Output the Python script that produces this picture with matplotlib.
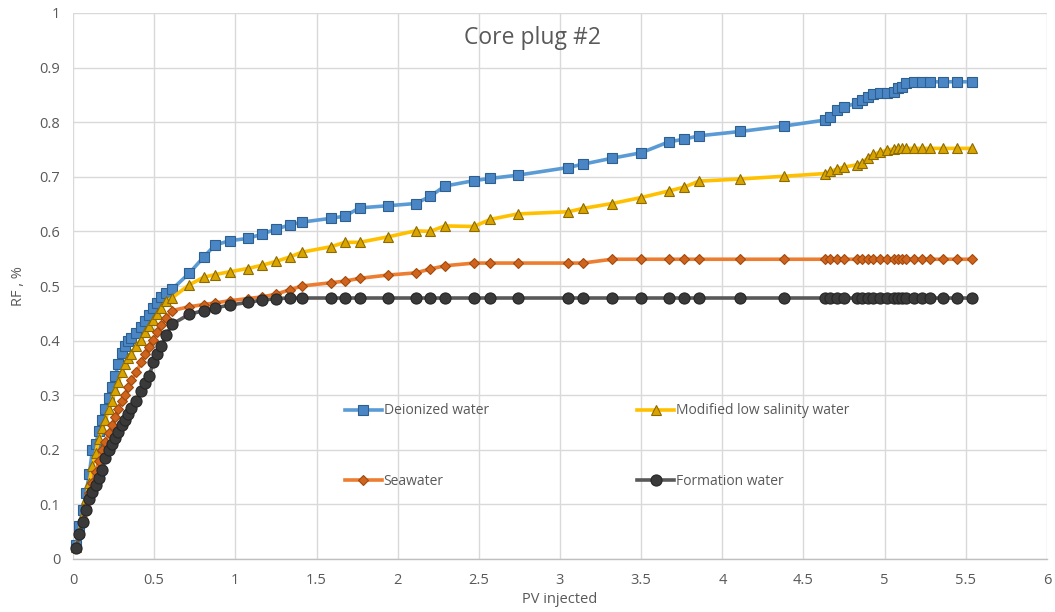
import matplotlib
matplotlib.use("Agg")
import matplotlib.pyplot as plt
from matplotlib import font_manager

# ---------------- data ----------------
pv_injected = [
    0.02, 0.04, 0.06, 0.08, 0.10, 0.12, 0.14, 0.16, 0.18, 0.20, 0.22, 0.24, 0.26, 0.28,
    0.30, 0.32, 0.34, 0.36, 0.39, 0.42, 0.445, 0.47, 0.495, 0.52, 0.545, 0.575, 0.61,
    0.715, 0.805, 0.875, 0.965, 1.075, 1.165, 1.25, 1.335, 1.41,
    1.59, 1.675, 1.765, 1.94, 2.11, 2.20, 2.29, 2.47, 2.57, 2.74, 3.05, 3.14, 3.32,
    3.50, 3.67, 3.765, 3.855, 4.11, 4.38,
    4.635, 4.665, 4.705, 4.75, 4.83, 4.86, 4.90, 4.93, 4.97, 5.015, 5.055, 5.085,
    5.105, 5.13, 5.18, 5.23, 5.28, 5.36, 5.445, 5.54,
]

deionized = [
    0.025, 0.06, 0.09, 0.12, 0.155, 0.20, 0.21, 0.235, 0.255, 0.275, 0.295, 0.315, 0.335, 0.358,
    0.377, 0.39, 0.40, 0.405, 0.414, 0.424, 0.435, 0.447, 0.459, 0.468, 0.479, 0.487, 0.494,
    0.523, 0.553, 0.575, 0.583, 0.587, 0.595, 0.604, 0.612, 0.617,
    0.624, 0.628, 0.643, 0.647, 0.651, 0.664, 0.683, 0.693, 0.697, 0.703, 0.717, 0.723, 0.734,
    0.744, 0.764, 0.769, 0.775, 0.783, 0.793,
    0.804, 0.81, 0.822, 0.828, 0.835, 0.841, 0.847, 0.852, 0.854, 0.854, 0.856, 0.862,
    0.865, 0.871, 0.874, 0.874, 0.874, 0.874, 0.874, 0.874,
]

modified_low_salinity = [
    0.022, 0.05, 0.08, 0.11, 0.14, 0.17, 0.195, 0.22, 0.24, 0.255, 0.275, 0.29, 0.31, 0.325,
    0.343, 0.357, 0.368, 0.376, 0.391, 0.402, 0.415, 0.426, 0.437, 0.448, 0.46, 0.472, 0.478,
    0.502, 0.516, 0.521, 0.526, 0.532, 0.538, 0.545, 0.553, 0.562,
    0.572, 0.58, 0.58, 0.59, 0.601, 0.60, 0.61, 0.609, 0.622, 0.632, 0.636, 0.642, 0.651,
    0.662, 0.674, 0.681, 0.692, 0.696, 0.701,
    0.706, 0.71, 0.714, 0.718, 0.722, 0.726, 0.735, 0.741, 0.745, 0.749, 0.751, 0.752,
    0.752, 0.752, 0.752, 0.752, 0.752, 0.752, 0.752, 0.752,
]

seawater = [
    0.022, 0.045, 0.07, 0.095, 0.12, 0.14, 0.16, 0.18, 0.20, 0.215, 0.23, 0.245, 0.26, 0.275,
    0.29, 0.30, 0.315, 0.327, 0.342, 0.36, 0.375, 0.388, 0.402, 0.415, 0.428, 0.442, 0.455,
    0.462, 0.466, 0.469, 0.473, 0.477, 0.48, 0.485, 0.493, 0.50,
    0.506, 0.509, 0.514, 0.52, 0.524, 0.531, 0.537, 0.542, 0.542, 0.542, 0.542, 0.542, 0.549,
    0.549, 0.549, 0.549, 0.549, 0.549, 0.549,
    0.549, 0.549, 0.549, 0.549, 0.549, 0.549, 0.549, 0.549, 0.549, 0.549, 0.549, 0.549,
    0.549, 0.549, 0.549, 0.549, 0.549, 0.549, 0.549, 0.549,
]

formation = [
    0.02, 0.045, 0.068, 0.09, 0.11, 0.122, 0.135, 0.148, 0.163, 0.185, 0.20, 0.21, 0.222, 0.233,
    0.245, 0.255, 0.266, 0.276, 0.29, 0.308, 0.322, 0.336, 0.36, 0.376, 0.39, 0.41, 0.43,
    0.448, 0.455, 0.46, 0.465, 0.47, 0.474, 0.477, 0.478, 0.478,
    0.478, 0.478, 0.478, 0.478, 0.478, 0.478, 0.478, 0.478, 0.478, 0.478, 0.478, 0.478, 0.478,
    0.478, 0.478, 0.478, 0.478, 0.478, 0.478,
    0.478, 0.478, 0.478, 0.478, 0.478, 0.478, 0.478, 0.478, 0.478, 0.478, 0.478, 0.478,
    0.478, 0.478, 0.478, 0.478, 0.478, 0.478, 0.478, 0.478,
]

series_labels = ["Deionized water", "Modified low salinity water", "Seawater", "Formation water"]
x_ticks = [0, 0.5, 1, 1.5, 2, 2.5, 3, 3.5, 4, 4.5, 5, 5.5, 6]
x_tick_labels = ["0", "0.5", "1", "1.5", "2", "2.5", "3", "3.5", "4", "4.5", "5", "5.5", "6"]
y_ticks = [0, 0.1, 0.2, 0.3, 0.4, 0.5, 0.6, 0.7, 0.8, 0.9, 1]
y_tick_labels = ["0", "0.1", "0.2", "0.3", "0.4", "0.5", "0.6", "0.7", "0.8", "0.9", "1"]
title = "Core plug #2"
x_label = "PV injected"
y_label = "RF , %"

# ---------------- style ----------------
available = {f.name for f in font_manager.fontManager.ttflist}
family = [f for f in ["Liberation Sans Narrow", "Open Sans", "DejaVu Sans"] if f in available]
plt.rcParams["font.family"] = family
text_col = "#595959"
grid_col = "#D9D9D9"

fig = plt.figure(figsize=(10.55, 6.12), dpi=100)
ax = fig.add_axes([73 / 1055, 53 / 612, 974 / 1055, 546 / 612])

styles = [
    dict(color="#5B9BD5", marker="s", mfc="#4A86C5", mec="#2E5F8F", ms=6.5),
    dict(color="#FFC000", marker="^", mfc="#D9A400", mec="#8C6A00", ms=7.5),
    dict(color="#ED7D31", marker="D", mfc="#D0641C", mec="#A04A10", ms=5.2),
    dict(color="#595959", marker="o", mfc="#3A3A3A", mec="#262626", ms=8.0),
]
data = [deionized, modified_low_salinity, seawater, formation]
lines = []
for ys, lab, st in zip(data, series_labels, styles):
    (ln,) = ax.plot(pv_injected, ys, label=lab, lw=2.6, color=st["color"],
                    marker=st["marker"], markerfacecolor=st["mfc"],
                    markeredgecolor=st["mec"], markeredgewidth=0.8,
                    markersize=st["ms"], zorder=3, clip_on=False)
    lines.append(ln)

ax.set_xlim(0, 6)
ax.set_ylim(0, 1)
ax.set_xticks(x_ticks)
ax.set_xticklabels(x_tick_labels)
ax.set_yticks(y_ticks)
ax.set_yticklabels(y_tick_labels)
ax.grid(True, color=grid_col, lw=1.0, zorder=0)
ax.set_axisbelow(True)
for s in ["top", "right", "left"]:
    ax.spines[s].set_visible(False)
ax.spines["bottom"].set_color("#BFBFBF")
ax.spines["bottom"].set_linewidth(1.0)
ax.tick_params(axis="both", length=0, labelsize=10.5, labelcolor=text_col, pad=9)
ax.tick_params(axis="x", pad=10)

ax.set_xlabel(x_label, fontsize=10.5, color=text_col, labelpad=3)
ax.set_ylabel(y_label, fontsize=10.5, color=text_col, labelpad=10)
ax.text(0.472, 0.955, title, transform=ax.transAxes, ha="center", va="center",
        fontsize=16.5, color=text_col)

leg_kw = dict(frameon=False, loc="upper left", borderpad=0, borderaxespad=0,
              handlelength=2.7, handletextpad=0.1, labelspacing=4.0, fontsize=10,
              labelcolor=text_col, numpoints=1)
leg1 = ax.legend([lines[0], lines[2]], [series_labels[0], series_labels[2]],
                 bbox_to_anchor=(0.279, 0.285), **leg_kw)
ax.add_artist(leg1)
ax.legend([lines[1], lines[3]], [series_labels[1], series_labels[3]],
          bbox_to_anchor=(0.579, 0.285), **leg_kw)

fig.savefig("out.png", dpi=100)
